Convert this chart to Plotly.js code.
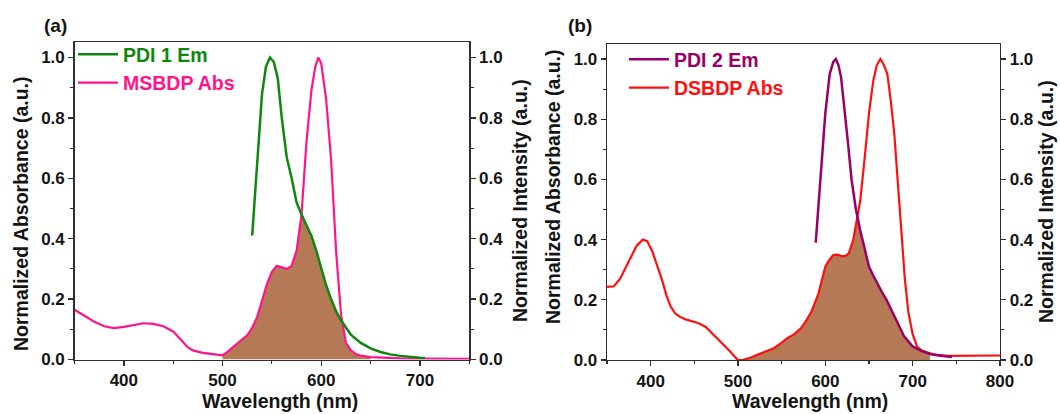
<!DOCTYPE html>
<html><head><meta charset="utf-8">
<script src="https://cdn.plot.ly/plotly-3.0.1.min.js"></script>
<style>html,body{margin:0;padding:0;background:#fff}#chart{width:1060px;height:414px}</style>
</head><body><div id="chart"></div>
<script>
// ---- Panel (a) data ----
const wlMSBDP = [350,360,370,380,390,400,410,420,430,440,450,455,460,465,470,480,490,500,505,510,515,520,525,530,535,540,545,550,555,560,565,570,575,580,585,590,594,597,600,605,610,615,620,625,630,635,640,650,660,680,700,750];
const absMSBDP = [0.165,0.145,0.125,0.11,0.104,0.108,0.115,0.12,0.118,0.11,0.093,0.075,0.058,0.04,0.03,0.022,0.018,0.014,0.025,0.04,0.055,0.067,0.08,0.105,0.14,0.195,0.25,0.29,0.31,0.305,0.30,0.31,0.36,0.48,0.72,0.89,0.97,1.0,0.98,0.86,0.66,0.36,0.15,0.055,0.03,0.018,0.013,0.008,0.006,0.004,0.003,0.002];
const wlPDI1 = [530,533,536,540,544,548,552,556,560,565,570,575,580,585,590,595,600,605,610,615,620,625,630,640,650,660,670,680,690,700,705];
const emPDI1 = [0.41,0.56,0.70,0.88,0.97,1.0,0.985,0.93,0.80,0.67,0.60,0.52,0.48,0.445,0.41,0.36,0.30,0.245,0.20,0.16,0.13,0.105,0.082,0.055,0.037,0.025,0.017,0.012,0.008,0.006,0.005];

// ---- Panel (b) data ----
const wlDSBDP = [350,358,365,374,384,391,396,402,407,413,418,423,428,433,440,448,455,463,470,478,485,491,496,500,505,510,515,520,526,533,541,549,556,564,572,578,584,588,592,596,600,604,609,614,619,623,627,632,636,640,645,650,655,659,663,667,671,675,679,683,687,691,695,700,705,710,716,725,740,760,780,800];
const absDSBDP = [0.243,0.245,0.27,0.32,0.38,0.40,0.395,0.36,0.32,0.266,0.215,0.177,0.155,0.144,0.135,0.127,0.122,0.11,0.09,0.066,0.045,0.028,0.012,0.0,0.0,0.003,0.008,0.015,0.022,0.03,0.039,0.055,0.072,0.085,0.105,0.13,0.16,0.19,0.22,0.265,0.31,0.33,0.349,0.35,0.345,0.345,0.355,0.40,0.46,0.53,0.67,0.82,0.93,0.98,1.0,0.98,0.95,0.86,0.75,0.6,0.42,0.27,0.16,0.085,0.045,0.032,0.026,0.018,0.014,0.015,0.015,0.015];
const wlPDI2 = [589,592,595,600,605,609,612,615,618,622,626,630,635,640,645,650,655,660,665,670,675,680,685,690,695,700,710,720,730,745];
const emPDI2 = [0.39,0.5,0.63,0.82,0.95,0.99,1.0,0.98,0.94,0.84,0.72,0.6,0.5,0.43,0.37,0.31,0.28,0.25,0.225,0.2,0.17,0.145,0.115,0.08,0.062,0.045,0.03,0.02,0.015,0.01];

// ---- Labels ----
const panelLabels = ['(a)', '(b)'];
const seriesNames = {emA:'PDI 1 Em', absA:'MSBDP Abs', emB:'PDI 2 Em', absB:'DSBDP Abs'};
const xTitle = 'Wavelength (nm)';
const yLeftTitle = 'Normalized Absorbance (a.u.)';
const yRightTitle = 'Normalized Intensity (a.u.)';
const xRangeA = [350, 750], xRangeB = [350, 800], yRange = [0, 1.05];

// colours
const cGreen = '#0e870e', cPink = '#ff148c', cPurple = '#990066', cRed = '#ff1010', cFill = '#b57a55';

function interp(xs, ys, x) {
  if (x < xs[0] || x > xs[xs.length - 1]) return null;
  for (let i = 0; i < xs.length - 1; i++) {
    if (x >= xs[i] && x <= xs[i + 1]) {
      const t = (x - xs[i]) / (xs[i + 1] - xs[i]);
      return ys[i] + t * (ys[i + 1] - ys[i]);
    }
  }
  return ys[ys.length - 1];
}
// overlap region: min of absorption and emission (absorption where emission undefined)
function overlap(ax, ay, ex, ey, lo, hi) {
  const grid = Array.from(new Set(ax.concat(ex).concat([lo, hi]).filter(v => v >= lo && v <= hi))).sort((a, b) => a - b);
  const val = g => { const a = interp(ax, ay, g); const e = interp(ex, ey, g); return e === null ? a : Math.min(a, e); };
  const diff = g => { const a = interp(ax, ay, g); const e = interp(ex, ey, g); return e === null ? null : a - e; };
  const X = [], Y = [];
  for (let i = 0; i < grid.length; i++) {
    if (i > 0) {
      const d0 = diff(grid[i - 1]), d1 = diff(grid[i]);
      if (d0 !== null && d1 !== null && d0 * d1 < 0) {
        const xc = grid[i - 1] + (grid[i] - grid[i - 1]) * d0 / (d0 - d1);
        X.push(xc); Y.push(val(xc));
      }
    }
    X.push(grid[i]); Y.push(val(grid[i]));
  }
  return {x: X, y: Y};
}
const fillA = overlap(wlMSBDP, absMSBDP, wlPDI1, emPDI1, 500, 650);
const fillB = overlap(wlDSBDP, absDSBDP, wlPDI2, emPDI2, 505, 720);

const FONT = 'Liberation Sans, Arial, sans-serif';
const axLine = '#2e2e2e';
const tickFont = {family: FONT, size: 17, weight: 'bold', color: '#141414'};

function xAxis(range, domain, anchor) {
  return {range: range, domain: domain, anchor: anchor, dtick: 100, tick0: 0, ticks: 'outside', ticklen: 5, tickwidth: 1.3,
    tickcolor: axLine, showline: true, linecolor: axLine, linewidth: 1.3, mirror: true, showgrid: false, zeroline: false,
    tickfont: tickFont, minor: {dtick: 50, ticks: 'outside', ticklen: 3, tickwidth: 1.2, tickcolor: axLine, showgrid: false}};
}
function yAxis(domain, anchor, side, overlaying) {
  const o = {range: yRange, domain: domain, anchor: anchor, side: side, dtick: 0.2, tick0: 0, tickformat: '.1f', ticks: 'outside', ticklen: 5,
    tickwidth: 1.3, tickcolor: axLine, showline: true, linecolor: axLine, linewidth: 1.3, showgrid: false, zeroline: false,
    tickfont: tickFont, minor: {dtick: 0.1, ticks: 'outside', ticklen: 3, tickwidth: 1.2, tickcolor: axLine, showgrid: false}};
  if (overlaying) o.overlaying = overlaying;
  return o;
}

const W = 1060, H = 414;
const px = v => v / W, py = v => 1 - v / H;

const data = [
  {x: fillA.x, y: fillA.y, xaxis: 'x', yaxis: 'y', mode: 'lines', line: {width: 0}, fill: 'tozeroy', fillcolor: cFill, showlegend: false, hoverinfo: 'skip'},
  {x: wlPDI1, y: emPDI1, xaxis: 'x', yaxis: 'y2', mode: 'lines', line: {color: cGreen, width: 2.5}, name: '<span style="color:' + cGreen + '">' + seriesNames.emA + '</span>', legend: 'legend'},
  {x: wlMSBDP, y: absMSBDP, xaxis: 'x', yaxis: 'y', mode: 'lines', line: {color: cPink, width: 2.2}, name: '<span style="color:' + cPink + '">' + seriesNames.absA + '</span>', legend: 'legend'},
  {x: fillB.x, y: fillB.y, xaxis: 'x2', yaxis: 'y3', mode: 'lines', line: {width: 0}, fill: 'tozeroy', fillcolor: cFill, showlegend: false, hoverinfo: 'skip'},
  {x: wlPDI2, y: emPDI2, xaxis: 'x2', yaxis: 'y4', mode: 'lines', line: {color: cPurple, width: 2.5}, name: '<span style="color:' + cPurple + '">' + seriesNames.emB + '</span>', legend: 'legend2'},
  {x: wlDSBDP, y: absDSBDP, xaxis: 'x2', yaxis: 'y3', mode: 'lines', line: {color: cRed, width: 2.2}, name: '<span style="color:' + cRed + '">' + seriesNames.absB + '</span>', legend: 'legend2'}
];

const domAx = [px(74.5), px(469.3)], domAy = [py(359.5), py(42.4)];
const domBx = [px(607), px(1000)], domBy = [py(360), py(44)];
const legendFont = {family: FONT, size: 19.5, weight: 'bold'};

const titleFont = {family: FONT, size: 19.5, weight: 'bold', color: '#141414'};
function ann(text, x, y, angle, font) {
  return {text: text, x: px(x), y: py(y), xref: 'paper', yref: 'paper', xanchor: 'center', yanchor: 'middle', showarrow: false, textangle: angle || 0, font: font || titleFont};
}
const panelFont = {family: FONT, size: 19, weight: 'bold', color: '#141414'};

const layout = {
  width: W, height: H, margin: {l: 0, r: 0, t: 0, b: 0}, paper_bgcolor: '#fff', plot_bgcolor: '#fff', showlegend: true,
  xaxis: xAxis(xRangeA, domAx, 'y'),
  yaxis: yAxis(domAy, 'x', 'left'),
  yaxis2: yAxis(domAy, 'x', 'right', 'y'),
  xaxis2: xAxis(xRangeB, domBx, 'y3'),
  yaxis3: yAxis(domBy, 'x2', 'left'),
  yaxis4: yAxis(domBy, 'x2', 'right', 'y3'),
  legend: {x: px(73), y: py(35), xanchor: 'left', yanchor: 'top', bgcolor: 'rgba(0,0,0,0)', font: legendFont, itemwidth: 40, tracegroupgap: 0, traceorder: 'normal'},
  legend2: {x: px(624), y: py(40), xanchor: 'left', yanchor: 'top', bgcolor: 'rgba(0,0,0,0)', font: legendFont, itemwidth: 40, tracegroupgap: 0, traceorder: 'normal'},
  annotations: [
    ann(panelLabels[0], 55, 25, 0, panelFont),
    ann(panelLabels[1], 579.5, 25, 0, panelFont),
    ann(xTitle, 280, 401),
    ann(xTitle, 810, 401),
    ann(yLeftTitle, 21, 214, -90),
    ann(yRightTitle, 520, 201, -90),
    ann(yLeftTitle, 553, 187, -90),
    ann(yRightTitle, 1046, 202, -90)
  ]
};
Plotly.newPlot('chart', data, layout, {staticPlot: true, displayModeBar: false});
</script></body></html>
